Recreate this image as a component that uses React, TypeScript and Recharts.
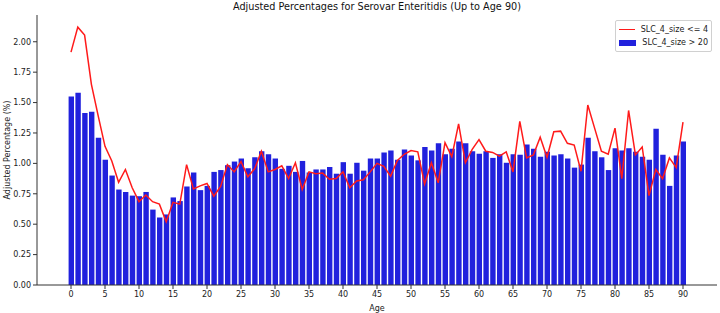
import { Bar, ComposedChart, Line, XAxis, YAxis, Legend } from "recharts";

const AGES = Array.from({ length: 91 }, (_, i) => i);

const BIG_SIZE = [
  1.55, 1.58, 1.415, 1.425, 1.21, 1.03, 0.9, 0.785, 0.765, 0.735,
  0.73, 0.765, 0.62, 0.555, 0.58, 0.72, 0.69, 0.81, 0.925, 0.78,
  0.815, 0.93, 0.945, 0.985, 1.015, 1.04, 0.96, 1.05, 1.1, 1.075,
  1.04, 0.955, 0.98, 0.93, 1.02, 0.925, 0.95, 0.95, 0.97, 0.915,
  1.01, 0.915, 1.005, 0.94, 1.04, 1.04, 1.09, 1.105, 1.03, 1.115,
  1.065, 1.025, 1.135, 1.105, 1.165, 1.075, 1.12, 1.18, 1.165, 1.1,
  1.08, 1.1, 1.045, 1.075, 1.005, 1.075, 1.07, 1.155, 1.12, 1.055,
  1.095, 1.065, 1.075, 1.04, 0.965, 0.99, 1.21, 1.1, 1.05, 0.945,
  1.125, 1.105, 1.125, 1.095, 1.055, 1.03, 1.285, 1.07, 0.815, 1.065,
  1.18,
];

const SMALL_SIZE = [
  1.915, 2.12, 2.055, 1.65, 1.39, 1.14, 1.02, 0.845, 0.95, 0.8,
  0.685, 0.74, 0.685, 0.665, 0.52, 0.68, 0.665, 0.99, 0.79, 0.815,
  0.835, 0.73, 0.81, 0.99, 0.93, 1.015, 0.89, 0.955, 1.1, 0.93,
  0.95, 0.98, 0.875, 1.005, 0.785, 0.93, 0.915, 0.92, 0.87, 0.875,
  0.93, 0.8, 0.855, 0.865, 0.93, 1.0, 0.975, 0.895, 1.025, 1.075,
  1.105, 1.095, 0.83, 1.005, 0.84, 1.17, 1.055, 1.325, 1.005, 1.115,
  1.195, 1.1, 1.09, 1.06, 1.095, 0.93, 1.345, 1.045, 1.07, 1.215,
  1.05, 1.26, 1.265, 1.165, 1.15, 0.935, 1.48, 1.29, 1.1, 1.075,
  1.29, 0.875, 1.435, 1.07, 1.135, 0.735, 0.95, 0.875, 1.045, 0.965,
  1.34,
];

const X_TICKS = [0, 5, 10, 15, 20, 25, 30, 35, 40, 45, 50, 55, 60, 65, 70, 75, 80, 85, 90];
const Y_TICKS = [0, 0.25, 0.5, 0.75, 1, 1.25, 1.5, 1.75, 2];

const data = AGES.map((age, i) => ({ age, big: BIG_SIZE[i], small: SMALL_SIZE[i] }));

const FONT = "'DejaVu Sans', sans-serif";
const AXIS = "#333";
const TXT = "#222";

function YLabel(props: any) {
  const vb = props.viewBox || { y: 15, height: 270 };
  const cy = vb.y + vb.height / 2;
  return (
    <text x={7} y={cy} transform={`rotate(-90, 7, ${cy})`} textAnchor="middle" dominantBaseline="middle" fontSize={8} fill={TXT} fontFamily={FONT}>
      Adjusted Percentage (%)
    </text>
  );
}

function LegendBox() {
  return (
    <div style={{ width: 97, boxSizing: "border-box", border: "1px solid #d0d0d0", borderRadius: 2, background: "#fff", padding: "2px 3px", fontFamily: FONT, fontSize: 8, color: TXT, lineHeight: "13px", whiteSpace: "nowrap" }}>
      <div style={{ display: "flex", alignItems: "center" }}>
        <span style={{ display: "inline-block", width: 18, height: 1.5, background: "#ff1a1a", marginRight: 6 }} />
        SLC_4_size &lt;= 4
      </div>
      <div style={{ display: "flex", alignItems: "center" }}>
        <span style={{ display: "inline-block", width: 18, height: 6, background: "#2121dd", marginRight: 6 }} />
        SLC_4_size &gt; 20
      </div>
    </div>
  );
}

export default function App() {
  return (
    <div style={{ position: "absolute", left: 0, top: 0, width: 720, height: 313, background: "#fff" }}>
      <div style={{ position: "absolute", left: 37, top: 0, width: 680, textAlign: "center", fontFamily: FONT, fontSize: 9.7, lineHeight: "14px", color: "#111" }}>
        Adjusted Percentages for Serovar Enteritidis (Up to Age 90)
      </div>
      <ComposedChart width={720} height={313} data={data} margin={{ top: 15, right: 3, bottom: 0, left: 0 }}>
        <XAxis
          dataKey="age"
          type="number"
          domain={[-5, 95]}
          ticks={X_TICKS}
          interval={0}
          height={28}
          tickSize={4}
          tick={{ fontSize: 8, fill: TXT, fontFamily: FONT }}
          axisLine={{ stroke: AXIS }}
          tickLine={{ stroke: AXIS }}
          label={{ value: "Age", position: "insideBottom", offset: 2, fontSize: 8, fill: TXT, fontFamily: FONT }}
        />
        <XAxis xAxisId="top" orientation="top" type="number" domain={[-5, 95]} dataKey="age" height={0} tick={false} tickLine={false} axisLine={{ stroke: AXIS }} />
        <YAxis
          domain={[0, 2.22]}
          ticks={Y_TICKS}
          width={37}
          tickSize={4}
          tickFormatter={(v: number) => v.toFixed(2)}
          tick={{ fontSize: 8, fill: TXT, fontFamily: FONT }}
          axisLine={{ stroke: AXIS }}
          tickLine={{ stroke: AXIS }}
          label={<YLabel />}
        />
        <YAxis yAxisId="right" orientation="right" domain={[0, 2.22]} width={0} tick={false} tickLine={false} axisLine={{ stroke: AXIS }} />
        <Bar dataKey="big" fill="#2121dd" barSize={5.4} isAnimationActive={false} />
        <Line dataKey="small" stroke="#ff1a1a" strokeWidth={1.5} dot={false} type="linear" isAnimationActive={false} />
        <Legend layout="vertical" align="center" verticalAlign="middle" content={() => <LegendBox />} wrapperStyle={{ top: 20, left: 615, width: "auto" }} />
      </ComposedChart>
    </div>
  );
}
